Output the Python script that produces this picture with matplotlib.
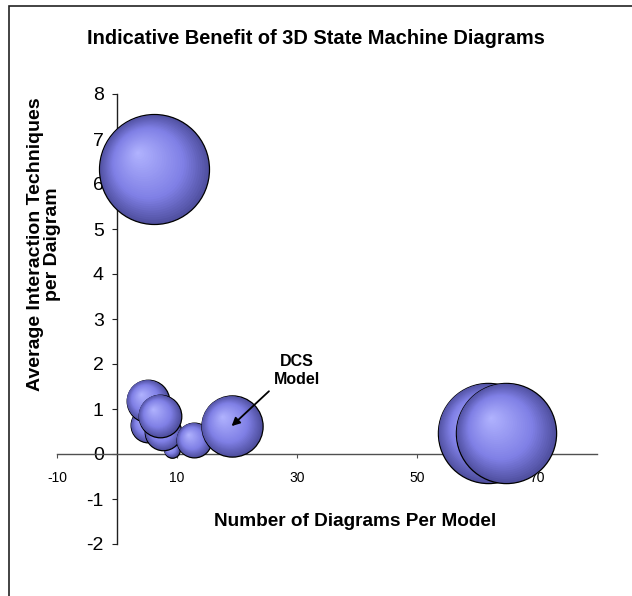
import numpy as np
import matplotlib
matplotlib.use("Agg")
import matplotlib.pyplot as plt
import matplotlib.transforms as mtrans
from matplotlib.patches import Rectangle

plt.rcParams["font.family"] = ["Liberation Sans", "DejaVu Sans"]
plt.rcParams["axes.unicode_minus"] = False

# bubble data, listed in drawing order (back to front)
diagrams_per_model = [9.1, 5.2, 7.7, 5.1, 7.1, 12.8, 19.1, 6.2, 61.8, 64.8]
techniques_per_diagram = [0.10, 0.64, 0.49, 1.18, 0.85, 0.31, 0.62, 6.33, 0.47, 0.47]
bubble_size = [2, 10, 11, 15, 15, 10, 31, 100, 83, 83]
dcs_index = 6

x_ticks = [-10, 10, 30, 50, 70]
y_ticks = [-2, -1, 0, 1, 2, 3, 4, 5, 6, 7, 8]

W, H, DPI = 632, 596, 100
R_MAX = 55  # px radius of the largest bubble

fig = plt.figure(figsize=(W / DPI, H / DPI), dpi=DPI)
fig.patches.append(Rectangle((9 / W, -0.1), 1.2, 1.1 - 6 / H, transform=fig.transFigure,
                             fill=False, edgecolor="#222222", lw=1.2))

ax = fig.add_axes([57 / W, 52 / H, 540 / W, 450 / H])
ax.set_xlim(-10, 80)
ax.set_ylim(-2, 8)
ax.patch.set_visible(False)
for s in ["top", "right"]:
    ax.spines[s].set_visible(False)
ax.spines["left"].set_position(("data", 0))
ax.spines["bottom"].set_position(("data", 0))
ax.spines["left"].set_color("#202020")
ax.spines["bottom"].set_color("#505050")
ax.spines["left"].set_linewidth(1.0)
ax.spines["bottom"].set_linewidth(1.0)
ax.set_xticks(x_ticks)
ax.set_yticks(y_ticks)
ax.tick_params(axis="x", direction="out", length=3, width=0.8, labelsize=10, pad=9,
               color="#505050")
ax.tick_params(axis="y", direction="out", length=3.6, width=0.8, labelsize=14, pad=6,
               color="#202020")

outer = np.array([80, 80, 160]) / 255
mid = np.array([128, 128, 230]) / 255
inner = np.array([178, 180, 255]) / 255


def shade(t):
    if t < 0.35:
        return outer + (mid - outer) * (t / 0.35)
    return mid + (inner - mid) * ((t - 0.35) / 0.65)


smax = max(bubble_size)
n_layers = 32
for i, (bx, by, bs) in enumerate(zip(diagrams_per_model, techniques_per_diagram, bubble_size)):
    r = R_MAX * np.sqrt(bs / smax)
    z = 3 + i
    for k in range(n_layers):
        t = k / n_layers
        rr = r * (1 - t)
        off = 0.3 * r * t
        tr = ax.transData + mtrans.ScaledTranslation(-off / DPI, off / DPI, fig.dpi_scale_trans)
        ax.scatter([bx], [by], s=(2 * rr * 72 / DPI) ** 2, color=shade(t),
                   edgecolors="black" if k == 0 else "none",
                   linewidths=0.9 if k == 0 else 0, transform=tr, zorder=z, clip_on=False)

ax.annotate("DCS\nModel", xy=(diagrams_per_model[dcs_index], techniques_per_diagram[dcs_index]),
            xytext=(47, 40), textcoords="offset points", ha="center", va="center",
            fontsize=11.5, fontweight="bold", zorder=30,
            arrowprops=dict(arrowstyle="-|>", color="black", lw=1.3, mutation_scale=12,
                            shrinkA=2, shrinkB=0, relpos=(0.0, 0.0)))

fig.text(0.5, 1 - 38 / H, "Indicative Benefit of 3D State Machine Diagrams",
         ha="center", va="center", fontsize=14.4, fontweight="bold")
fig.text(355 / W, 1 - 522 / H, "Number of Diagrams Per Model",
         ha="center", va="center", fontsize=13.7, fontweight="bold")
fig.text(44 / W, 1 - 244 / H, "Average Interaction Techniques\nper Daigram",
         ha="center", va="center", rotation=90, fontsize=14, fontweight="bold",
         multialignment="center", linespacing=1.0)

fig.savefig("out.png", dpi=DPI, facecolor="white")
